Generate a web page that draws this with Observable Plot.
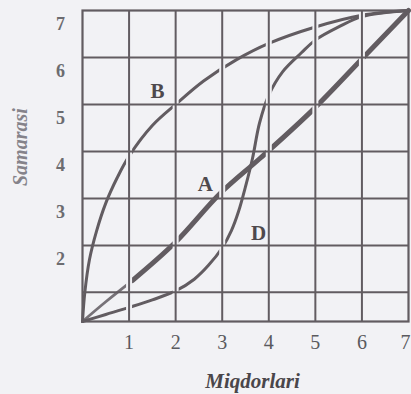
<!DOCTYPE html>
<html>
<head>
<meta charset="utf-8">
<script src="https://cdn.jsdelivr.net/npm/d3@7"></script>
<script src="https://cdn.jsdelivr.net/npm/@observablehq/plot@0.6"></script>
<style>
  html, body { margin: 0; padding: 0; background: #f2f2f5; }
  #chart svg { display: block; }
</style>
</head>
<body>
<div id="chart"></div>
<script>
// Axis ticks and grid (grid units)
const xTicks = [1, 2, 3, 4, 5, 6, 7];
const yTicks = [2, 3, 4, 5, 6, 7];
const xGrid = [1, 2, 3, 4, 5, 6];
const yGrid = [1, 2, 3, 4, 5, 6];
const xDomain = [0, 7];
const yDomain = [0.38, 7];

const xTitle = "Miqdorlari";
const yTitle = "Samarasi";

// Curve A (diagonal)
const aX = [0, 0.5, 1.07, 1.99, 2.96, 3.82, 4.94, 6.04, 7];
const aY = [0.38, 0.8, 1.25, 2.06, 3.11, 3.86, 4.88, 6.01, 7];

// Curve B (upper, concave)
const bX = [0, 0.05, 0.15, 0.3, 0.5, 0.75, 1.0, 1.5, 2.0, 2.6, 3.3, 4.0, 5.0, 6.0, 7.0];
const bY = [0.38, 1.0, 1.7, 2.3, 2.9, 3.45, 3.9, 4.55, 5.0, 5.5, 5.95, 6.3, 6.65, 6.9, 7.0];

// Curve D (S-shaped)
const dX = [0, 0.5, 1.0, 1.5, 2.0, 2.4, 2.7, 3.0, 3.2, 3.35, 3.5, 3.65, 3.8, 4.0, 4.3, 4.7, 5.0, 5.5, 6.0, 7.0];
const dY = [0.38, 0.53, 0.68, 0.84, 1.03, 1.28, 1.57, 1.95, 2.32, 2.72, 3.25, 3.85, 4.6, 5.2, 5.7, 6.1, 6.37, 6.65, 6.87, 7.0];

// Curve letters
const letters = ["B", "A", "D"];
const letterX = [1.61, 2.64, 3.78];
const letterY = [5.28, 3.3, 2.26];

const rows = (xs, ys) => xs.map((x, i) => ({x, y: ys[i]}));
const A = rows(aX, aY);
const B = rows(bX, bY);
const D = rows(dX, dY);
const lab = letters.map((t, i) => ({t, x: letterX[i], y: letterY[i]}));

const ink = "#625c61";
const bg = "#f2f2f5";
const serif = "Liberation Serif, DejaVu Serif, serif";

const tickStyle = {frameAnchor: "bottom", dy: 21, text: d => String(d), fontSize: 20, fill: "#5a5a5e", lineAnchor: "middle"};

const chart = Plot.plot({
  width: 411,
  height: 394,
  marginLeft: 82,
  marginRight: 3,
  marginTop: 10,
  marginBottom: 73,
  x: {domain: xDomain, axis: null},
  y: {domain: yDomain, axis: null},
  style: {background: bg, fontFamily: serif},
  marks: [
    // curves
    Plot.line(B, {x: "x", y: "y", stroke: ink, strokeWidth: 3, curve: "catmull-rom"}),
    Plot.line(D, {x: "x", y: "y", stroke: ink, strokeWidth: 3, curve: "catmull-rom"}),
    Plot.line(A.filter(d => d.x <= 1.07), {x: "x", y: "y", stroke: ink, strokeWidth: 2.8, strokeOpacity: 0.85, curve: "catmull-rom"}),
    Plot.line(A.filter(d => d.x >= 1.07), {x: "x", y: "y", stroke: ink, strokeWidth: 5, curve: "catmull-rom"}),
    // white halos of the vertical grid lines
    Plot.ruleX(xGrid, {stroke: bg, strokeWidth: 6}),
    // grid
    Plot.ruleX(xGrid, {stroke: ink, strokeWidth: 2}),
    Plot.ruleY(yGrid, {stroke: ink, strokeWidth: 2}),
    Plot.frame({stroke: ink, strokeWidth: 2.2}),
    // tick labels
    Plot.text(xTicks.filter(d => d < 7), {x: d => d, ...tickStyle}),
    Plot.text(xTicks.filter(d => d === 7), {x: d => d, dx: -3, ...tickStyle}),
    Plot.text(yTicks, {y: d => d, frameAnchor: "left", dx: -22, dy: 14, text: d => String(d), fontSize: 18, fontWeight: "bold", fill: "#6c6c70", textAnchor: "middle", lineAnchor: "middle"}),
    // curve letters
    Plot.text(lab, {x: "x", y: "y", text: "t", fontSize: 21, fontWeight: "bold", fill: "#4e494d", lineAnchor: "middle"}),
    // axis titles
    Plot.text([xTitle], {frameAnchor: "bottom", dx: 7, dy: 60, text: d => d, fontSize: 21, fontWeight: "bold", fontStyle: "italic", fill: "#4a464a", lineAnchor: "middle", letterSpacing: "1.5px"}),
    Plot.text([yTitle], {frameAnchor: "left", dx: -62, dy: 20, rotate: -90, text: d => d, fontSize: 20, fontStyle: "italic", fontWeight: "bold", fill: "#85838a", lineAnchor: "middle", letterSpacing: "3px"})
  ]
});
document.getElementById("chart").append(chart);
</script>
</body>
</html>
